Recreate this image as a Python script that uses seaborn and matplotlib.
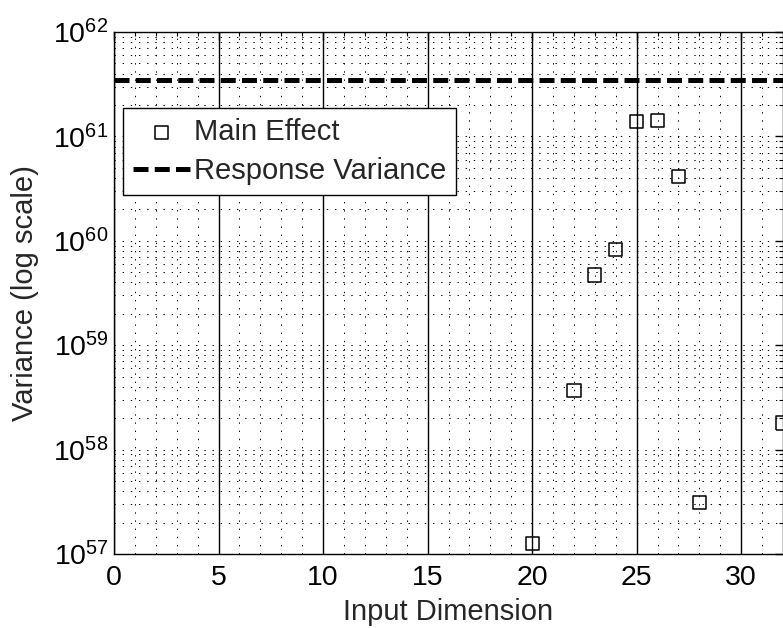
import matplotlib
matplotlib.use("Agg")
import matplotlib.pyplot as plt
import matplotlib.ticker as mticker
import numpy as np
import pandas as pd
import seaborn as sns

# Main-effect variance per input dimension (only dimensions within the plotted range)
dims = [20, 22, 23, 24, 25, 26, 27, 28, 32]
main_effect = [1.27e57, 3.7e58, 4.7e59, 8.3e59, 1.40e61, 1.43e61, 4.1e60, 3.1e57, 1.8e58]
response_variance = 3.5e61

x_ticks = [0, 5, 10, 15, 20, 25, 30]

sns.set_style("white")
plt.rcParams["font.family"] = ["Liberation Sans", "DejaVu Sans"]
plt.rcParams["mathtext.fontset"] = "custom"
plt.rcParams["mathtext.rm"] = "Liberation Sans"
plt.rcParams["mathtext.it"] = "Liberation Sans:italic"
plt.rcParams["mathtext.bf"] = "Liberation Sans:bold"

df = pd.DataFrame({"dim": dims, "var": main_effect})

W, H = 783, 628
fig = plt.figure(figsize=(W / 100, H / 100), dpi=100)
ax = fig.add_axes([114 / W, 74 / H, 1 - 114 / W, 522 / H])

ax.set_yscale("log")
ax.set_xlim(0, 32)
ax.set_ylim(1e57, 1e62)

dot = (0, (1.4, 7))
ax.set_xticks(x_ticks)
ax.xaxis.set_minor_locator(mticker.MultipleLocator(1))
ax.yaxis.set_major_locator(mticker.LogLocator(base=10, numticks=10))
ax.yaxis.set_minor_locator(mticker.LogLocator(base=10, subs=np.arange(2, 10), numticks=20))
ax.yaxis.set_major_formatter(mticker.LogFormatterSciNotation())
ax.yaxis.set_minor_formatter(mticker.NullFormatter())

ax.grid(which="major", axis="x", color="black", linestyle="-", linewidth=1.0)
ax.grid(which="minor", axis="x", color="black", linestyle=dot, linewidth=0.7)
ax.grid(which="both", axis="y", color="black", linestyle=dot, linewidth=0.7)
ax.set_axisbelow(True)

sns.scatterplot(data=df, x="dim", y="var", ax=ax, marker="s", s=90,
                facecolor="none", edgecolor="black", linewidth=1.1,
                label="Main Effect", zorder=3)
ax.axhline(response_variance, color="black", linewidth=3.6,
           linestyle=(0, (3.0, 1.25)), label="Response Variance", zorder=4)

ax.tick_params(which="both", direction="in", top=True, right=True,
               labelsize=20.5, colors="black")
ax.tick_params(which="major", length=6, width=1)
ax.tick_params(which="minor", length=3, width=0.8)
ax.tick_params(axis="x", pad=8)
ax.tick_params(axis="y", pad=4)

for sp in ax.spines.values():
    sp.set_color("black")
    sp.set_linewidth(1.0)

ax.set_xlabel("Input Dimension", fontsize=21, labelpad=5)
ax.set_ylabel("Variance (log scale)", fontsize=21)
ax.yaxis.set_label_coords((39 - 114) / (W - 114), 0.5)

leg = ax.legend(loc="upper left", bbox_to_anchor=(0.0135, 0.854), fontsize=21,
                frameon=True, fancybox=False, framealpha=1, edgecolor="black",
                handlelength=1.95, handletextpad=0.17, borderpad=0.33,
                labelspacing=0.39, borderaxespad=0)
leg.get_frame().set_linewidth(1.0)

fig.savefig("out.png", dpi=100)
